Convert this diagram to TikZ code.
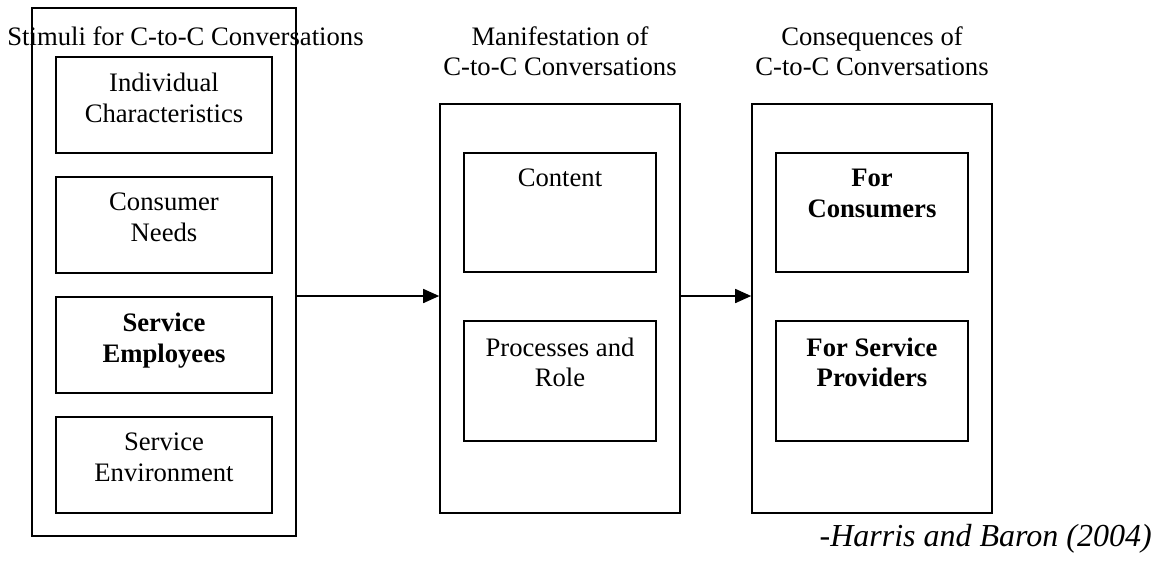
\documentclass[tikz,border=0pt]{standalone}
\usepackage{fontspec}
\setmainfont{Liberation Serif}
\usetikzlibrary{positioning}
\usetikzlibrary{arrows.meta}

\begin{document}
\begin{tikzpicture}[x=0.75pt,y=-0.75pt,
  frame/.style={draw,line width=1.2pt,inner sep=0pt},
  cell/.style={draw,line width=1.2pt,inner sep=0pt,minimum width=144pt},
  txt/.style={font=\fontsize{20}{23}\selectfont,align=center,inner sep=0pt},
  head/.style={font=\fontsize{20}{23}\selectfont,align=center,inner sep=0pt,anchor=north},
  flow/.style={line width=1.2pt,-{Triangle[length=12pt,width=10.5pt]}}]
\useasboundingbox (0,0) rectangle (1156,561);

\node[frame,minimum width=198pt,minimum height=396pt](stim) at (164,272){};
\node[frame,minimum width=180pt,minimum height=306.75pt](manif) at (560,308.5){};
\node[frame,minimum width=180pt,minimum height=306.75pt](conseq) at (872,308.5){};

\node[cell,minimum width=162pt,minimum height=72pt](indiv) at (164,105){};
\node[cell,minimum width=162pt,minimum height=72pt](needs) at (164,225){};
\node[cell,minimum width=162pt,minimum height=72pt](employ) at (164,345){};
\node[cell,minimum width=162pt,minimum height=72pt](environ) at (164,465){};
\node[cell,minimum height=89.6pt](content) at (560,212.5){};
\node[cell,minimum height=89.6pt](process) at (560,381){};
\node[cell,minimum height=89.6pt](consum) at (872,212.5){};
\node[cell,minimum height=89.6pt](provid) at (872,381){};

\node[txt,below=12.6pt of indiv.north](indivtxt){Individual\\Characteristics};
\node[txt,below=12.6pt of needs.north](needstxt){Consumer\\Needs};
\node[txt,below=12.6pt of employ.north,font=\fontsize{20}{23}\selectfont\bfseries](employtxt){Service\\Employees};
\node[txt,below=12.6pt of environ.north](environtxt){Service\\Environment};
\node[txt,below=12.6pt of content.north](contenttxt){Content};
\node[txt,below=12.6pt of process.north](processtxt){Processes and\\Role};
\node[txt,below=12.6pt of consum.north,font=\fontsize{20}{23}\selectfont\bfseries](consumtxt){For\\Consumers};
\node[txt,below=12.6pt of provid.north,font=\fontsize{20}{23}\selectfont\bfseries](providtxt){For Service\\Providers};

\node[head](stimhead) at (185.5,26){Stimuli for C-to-C Conversations};
\node[head](manifhead) at (560,26){Manifestation of\\C-to-C Conversations};
\node[head](conseqhead) at (872,26){Consequences of\\C-to-C Conversations};
\node[txt,anchor=base east,font=\fontsize{24}{28}\selectfont\itshape](cite) at (1152,546){-Harris and Baron (2004)};

\coordinate (flowrow) at (0,296);
\draw[flow] (stim.east |- flowrow) -- (manif.west |- flowrow);
\draw[flow] (manif.east |- flowrow) -- (conseq.west |- flowrow);
\end{tikzpicture}
\end{document}
